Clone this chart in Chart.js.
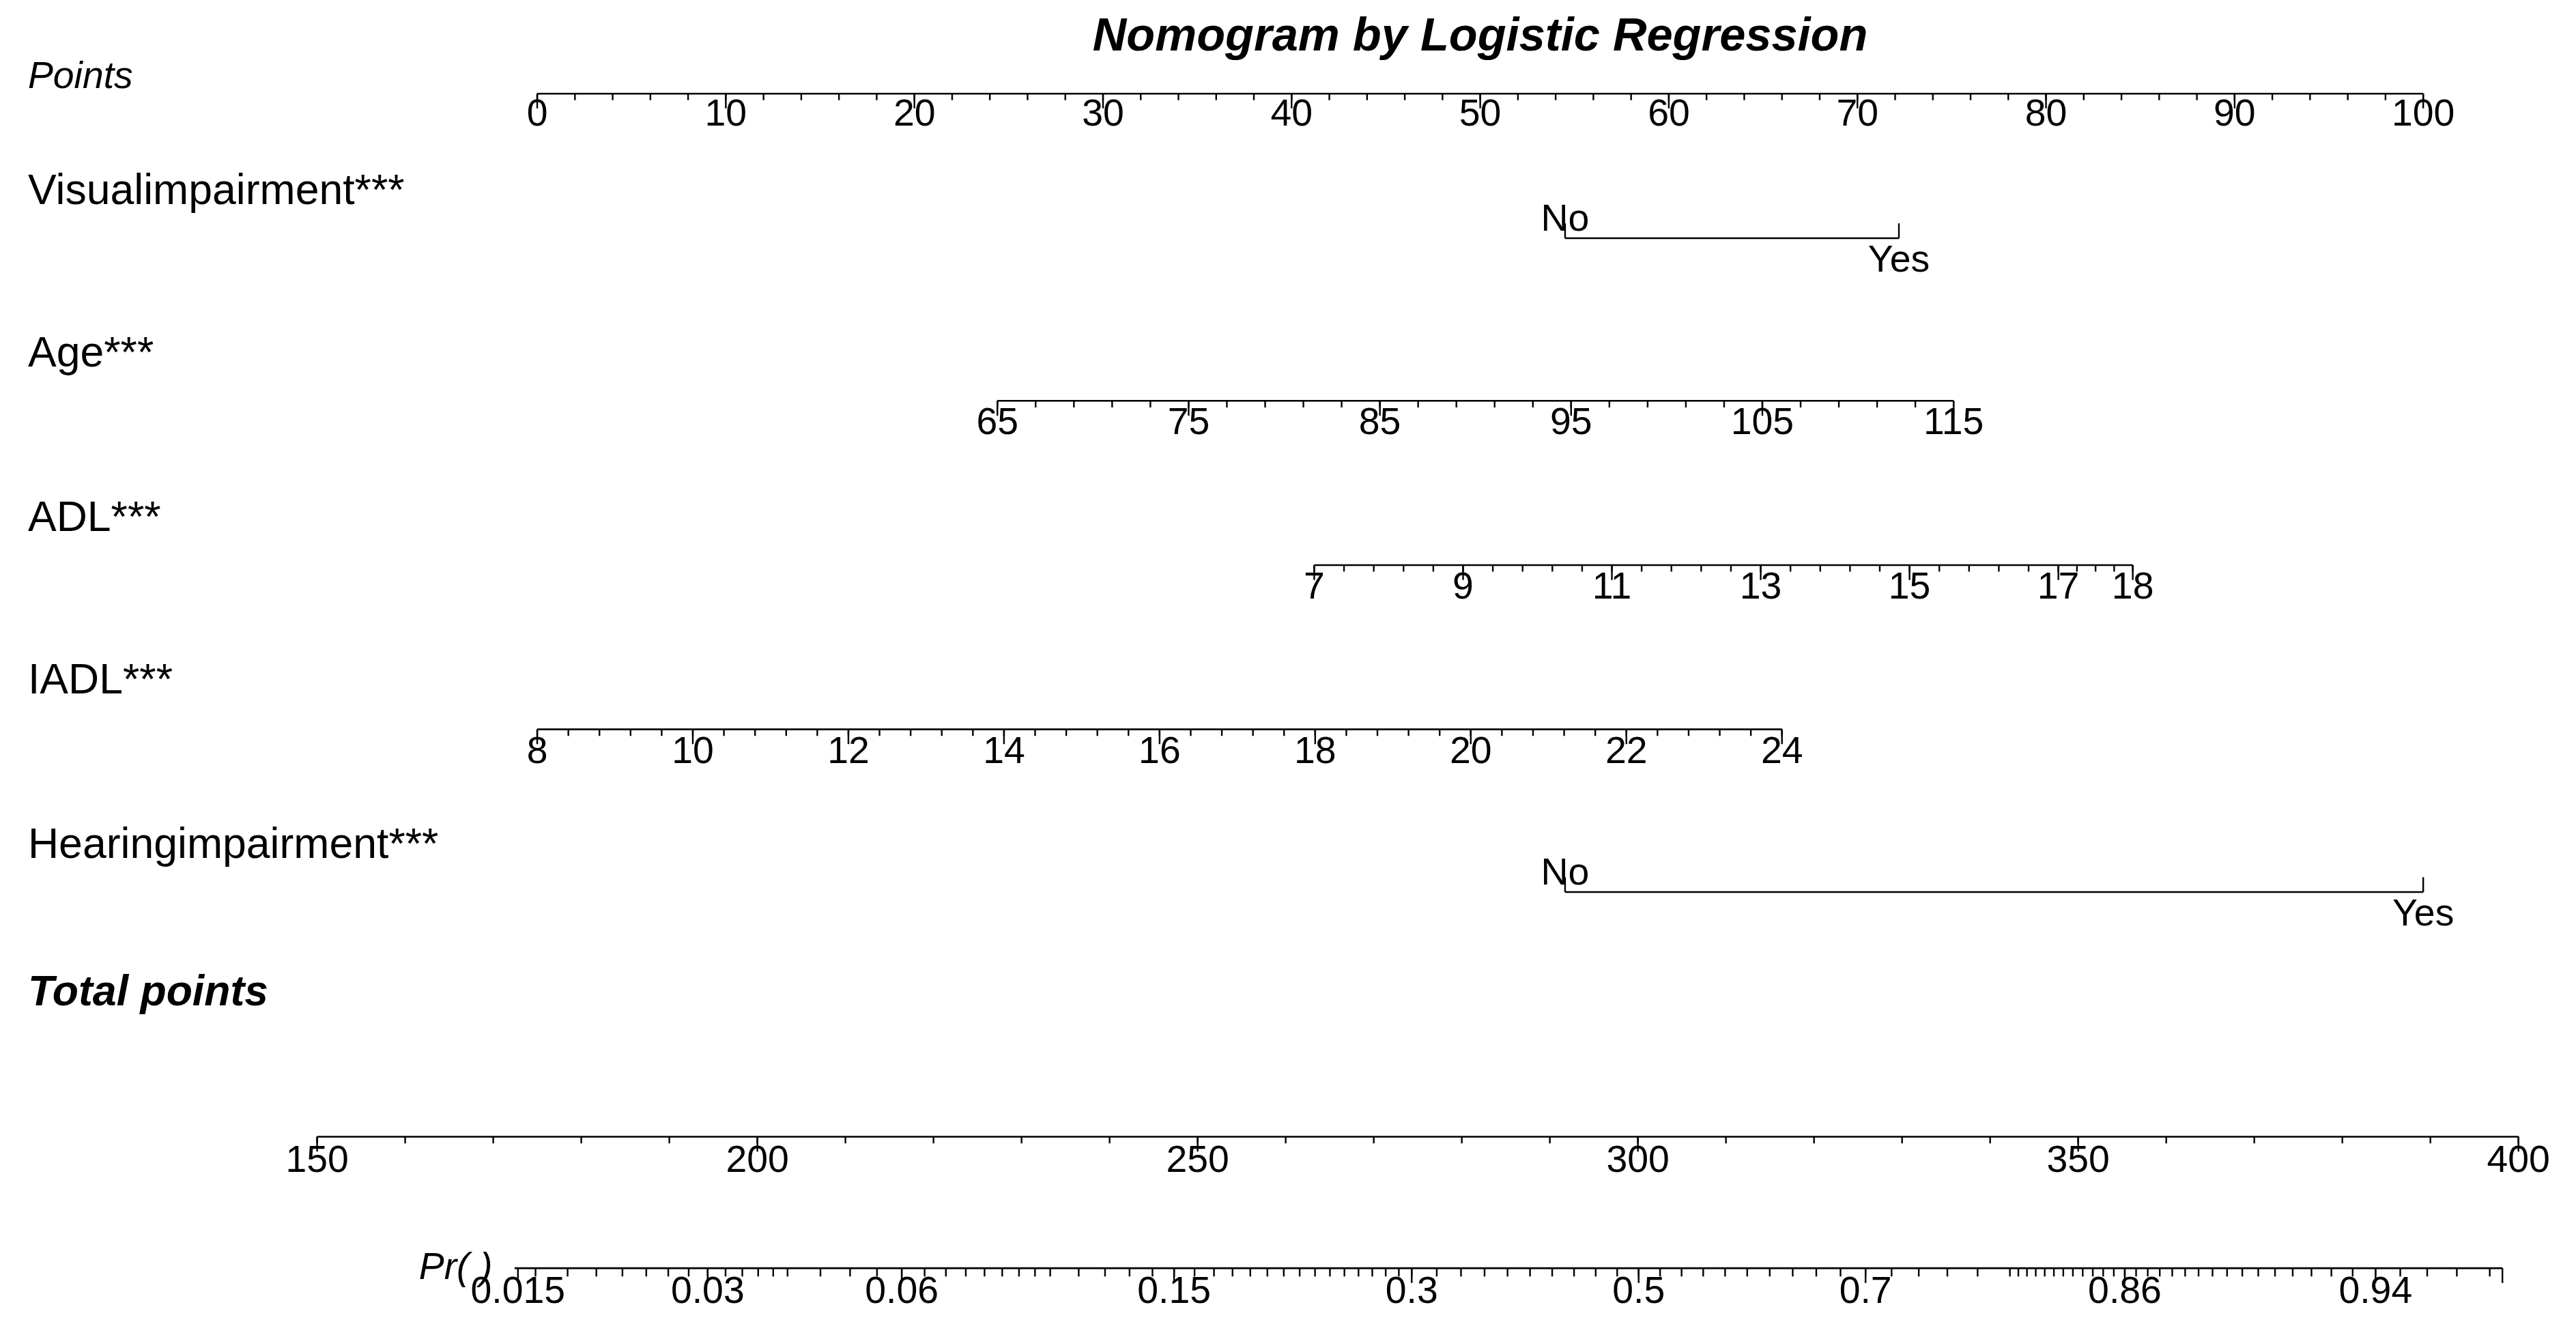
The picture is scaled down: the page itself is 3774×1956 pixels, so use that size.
<!DOCTYPE html>
<html><head><meta charset="utf-8">
<script src="https://cdn.jsdelivr.net/npm/chart.js"></script>
<style>html,body{margin:0;padding:0;background:#fff}canvas{display:block}</style>
</head><body>
<canvas id="c" width="3774" height="1956" style="width:3774px;height:1956px"></canvas>
<script>
// ---- data (values of each variable and their point positions) ----
const pointsTicks = [0,10,20,30,40,50,60,70,80,90,100];
const visualLabels = ["No","Yes"];
const visualPoints = [54.5,72.2];
const ageTicks = [65,75,85,95,105,115];
const agePointsRange = [24.4,75.1];          // points at age 65 and 115
const adlTicks = [7,9,11,13,15,17,18];
const adlPointsRange = [41.2,84.6];          // points at ADL 7 and 18
const iadlTicks = [8,10,12,14,16,18,20,22,24];
const iadlPointsRange = [0,66.0];            // points at IADL 8 and 24
const hearingLabels = ["No","Yes"];
const hearingPoints = [54.5,100];
const totalTicks = [150,200,250,300,350,400];
const totalPointsRange = [-11.67,105.05];    // positions of total 150 and 400 on points scale
const probTicks = [0.015,0.03,0.06,0.15,0.3,0.5,0.7,0.86,0.94];
const probLogitAt05 = 58.4;                  // points-scale position of p=0.5
const probPerLogit = 14.2;                   // points-scale units per logit
const probRange = [-1.2,104.2];

const S = 3774/1568;
const lin = (v,a,b,pa,pb)=>pa+(v-a)*(pb-pa)/(b-a);
const ageP = v=>lin(v,65,115,agePointsRange[0],agePointsRange[1]);
const adlP = v=>lin(v,7,18,adlPointsRange[0],adlPointsRange[1]);
const iadlP = v=>lin(v,8,24,iadlPointsRange[0],iadlPointsRange[1]);
const totP = v=>lin(v,150,400,totalPointsRange[0],totalPointsRange[1]);
const prP = p=>probLogitAt05+probPerLogit*Math.log(p/(1-p));

const rows = {points:57, visual:145, age:244, adl:344, iadl:444, hearing:543, total:692, prob:772};

function seg(x0,x1,y){return {data:[{x:x0,y:y},{x:x1,y:y}],borderColor:'#000',borderWidth:2.6,pointRadius:0,showLine:true,fill:false};}
const datasets = [
  seg(0,100,rows.points),
  seg(visualPoints[0],visualPoints[1],rows.visual),
  seg(ageP(65),ageP(115),rows.age),
  seg(adlP(7),adlP(18),rows.adl),
  seg(iadlP(8),iadlP(24),rows.iadl),
  seg(hearingPoints[0],hearingPoints[1],rows.hearing),
  seg(totP(150),totP(400),rows.total),
  seg(probRange[0],probRange[1],rows.prob),
];

function range(a,b,s){const r=[];for(let v=a;v<=b+1e-9;v+=s)r.push(+v.toFixed(4));return r;}
const probMinor = [].concat(range(0.016,0.04,0.002),range(0.045,0.1,0.005),range(0.11,0.3,0.01),range(0.32,0.8,0.02),range(0.805,0.9,0.005),range(0.905,0.96,0.005));

const TF = 23;
const nomo = {id:'nomo', afterDatasetsDraw(chart){
  const ctx=chart.ctx, X=chart.scales.x, Y=chart.scales.y;
  const px=v=>X.getPixelForValue(v), py=v=>Y.getPixelForValue(v);
  ctx.save(); ctx.fillStyle='#000'; ctx.strokeStyle='#000'; ctx.lineWidth=2.4;
  function ticks(vals,f,y,len){ctx.beginPath();vals.forEach(v=>{const x=px(f(v));ctx.moveTo(x,py(y));ctx.lineTo(x,py(y)+len*S);});ctx.stroke();}
  function labels(vals,f,y){ctx.font=TF*S+'px "Liberation Sans", Arial';ctx.textAlign='center';ctx.textBaseline='middle';
    vals.forEach(v=>ctx.fillText(String(v),px(f(v)),py(y)));}
  const id=v=>v;
  ticks(range(0,100,2),id,rows.points,4); ticks(pointsTicks,id,rows.points,9);
  labels(pointsTicks,id,rows.points+13);
  ticks(visualPoints,id,rows.visual,-9);
  ctx.font=TF*S+'px "Liberation Sans", Arial';ctx.textAlign='center';ctx.textBaseline='middle';
  ctx.fillText(visualLabels[0],px(visualPoints[0]),py(rows.visual-11));
  ctx.fillText(visualLabels[1],px(visualPoints[1]),py(rows.visual+14));
  ticks(range(65,115,2),ageP,rows.age,4); ticks(ageTicks,ageP,rows.age,9);
  labels(ageTicks,ageP,rows.age+14);
  ticks(range(7,17,0.4).concat([17.25,17.5,17.75,18]),adlP,rows.adl,4); ticks(adlTicks,adlP,rows.adl,9);
  labels(adlTicks,adlP,rows.adl+14);
  ticks(range(8,24,0.4),iadlP,rows.iadl,4); ticks(iadlTicks,iadlP,rows.iadl,9);
  labels(iadlTicks,iadlP,rows.iadl+14);
  ticks(hearingPoints,id,rows.hearing,-9);
  ctx.font=TF*S+'px "Liberation Sans", Arial';
  ctx.fillText(hearingLabels[0],px(hearingPoints[0]),py(rows.hearing-11));
  ctx.fillText(hearingLabels[1],px(hearingPoints[1]),py(rows.hearing+14));
  ticks(range(150,400,10),totP,rows.total,4); ticks(totalTicks,totP,rows.total,9);
  labels(totalTicks,totP,rows.total+15);
  ticks(probMinor,prP,rows.prob,5); ticks(probTicks,prP,rows.prob,9);
  ctx.beginPath();ctx.moveTo(px(probRange[1]),py(rows.prob));ctx.lineTo(px(probRange[1]),py(rows.prob)+9*S);ctx.stroke();
  labels(probTicks,prP,rows.prob+15);
  ctx.textAlign='left';ctx.textBaseline='middle';
  const lx=17*S;
  ctx.font='italic '+23*S+'px "Liberation Sans", Arial'; ctx.fillText('Points',lx,47*S);
  ctx.font=26*S+'px "Liberation Sans", Arial';
  [['Visualimpairment***',117],['Age***',216],['ADL***',316],['IADL***',415],['Hearingimpairment***',515]].forEach(([t,y])=>ctx.fillText(t,lx,y*S));
  ctx.font='italic bold '+26*S+'px "Liberation Sans", Arial'; ctx.fillText('Total points',lx,605*S);
  ctx.font='italic '+23*S+'px "Liberation Sans", Arial'; ctx.fillText('Pr( )',255*S,772*S);
  ctx.textAlign='center';ctx.font='italic bold '+28.5*S+'px "Liberation Sans", Arial';
  ctx.fillText('Nomogram by Logistic Regression',901*S,23*S);
  ctx.restore();
}};

new Chart(document.getElementById('c'),{
  type:'scatter',
  data:{datasets},
  options:{responsive:false,animation:false,devicePixelRatio:1,
    layout:{padding:0},
    plugins:{legend:{display:false},tooltip:{enabled:false}},
    scales:{
      x:{type:'linear',display:false,min:-327/11.48,max:(1568-327)/11.48},
      y:{type:'linear',display:false,min:0,max:1956/S,reverse:true}
    }},
  plugins:[nomo]
});
</script>
</body></html>
